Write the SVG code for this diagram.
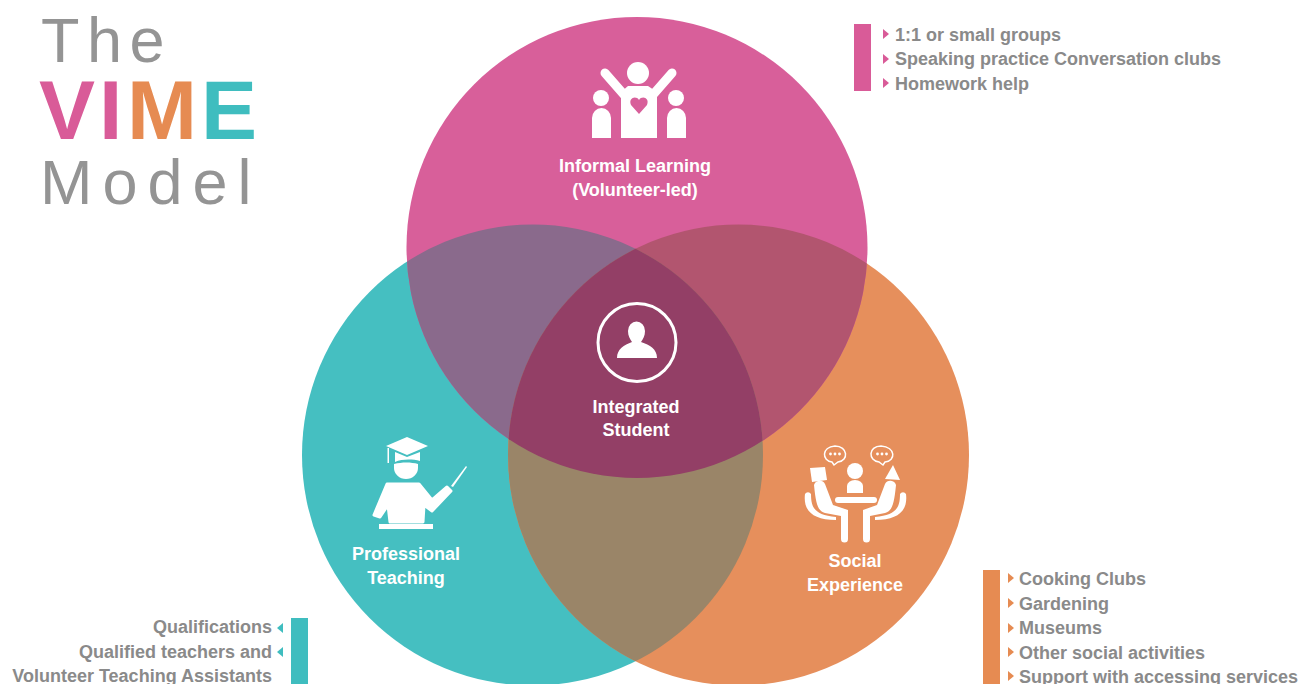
<svg xmlns="http://www.w3.org/2000/svg" width="1309" height="684" viewBox="0 0 1309 684">
<style>
.t{font-family:"Liberation Sans",Arial,sans-serif}
.title{font-size:63px;fill:#949494}
.vime{font-size:84px;font-weight:700}
.lab{font-size:18px;font-weight:700;fill:#fff;text-anchor:middle}
.li{font-size:18px;font-weight:700;fill:#8a8a8a}
.w{fill:#fff}
</style>
<defs>
<circle id="cp" cx="637" cy="247.500" r="230.500"/>
<circle id="ct" cx="532.500" cy="455" r="230.500"/>
<circle id="co" cx="738.500" cy="455" r="230.500"/>
<clipPath id="clipP"><use href="#cp"/></clipPath>
<clipPath id="clipT"><use href="#ct"/></clipPath>
<clipPath id="clipO"><use href="#co"/></clipPath>
<path id="ar" d="M-1-5 5 0-1 5Z"/>
</defs>
<rect width="1309" height="684" fill="#fff"/>
<g id="title" class="t">
<text class="title" x="41" y="62" letter-spacing="7.5">The</text>
<text class="vime" y="139"><tspan fill="#d95b98" x="39">V</tspan><tspan fill="#d95b98" x="99">I</tspan><tspan fill="#e68b52" x="127">M</tspan><tspan fill="#3fbdbf" x="201">E</tspan></text>
<text class="title" x="40" y="204" letter-spacing="10">Model</text>
</g>
<g id="venn">
<use href="#ct" fill="#45bfc1"/>
<use href="#co" fill="#e68f5c"/>
<use href="#cp" fill="#d85f9a"/>
<g clip-path="url(#clipT)"><use href="#cp" fill="#8a6a8c"/></g>
<g clip-path="url(#clipO)"><use href="#cp" fill="#b2556f"/></g>
<g clip-path="url(#clipT)"><use href="#co" fill="#9a8568"/></g>
<g clip-path="url(#clipT)"><g clip-path="url(#clipO)"><use href="#cp" fill="#933f66"/></g></g>
</g>
<g id="node-informal">
<g class="w">
<circle cx="638" cy="73" r="11"/>
<path d="M605 73 626 97M672 73 651 97" stroke="#fff" stroke-width="9" stroke-linecap="round"/>
<path d="M621 138V92L628 86H648L657 92V138Z"/>
<circle cx="601" cy="98" r="8"/>
<path d="M592 138V118a9.500 10 0 0 1 19 0V138Z"/>
<circle cx="676" cy="98" r="8"/>
<path d="M667 138V118a9.500 10 0 0 1 19 0V138Z"/>
</g>
<path d="M639 114 L631 105 C628 98 636 95 639 100 C642 95 650 98 647 105Z" fill="#d85f9a"/>
<text class="t lab" x="635" y="172">Informal Learning</text>
<text class="t lab" x="635" y="196">(Volunteer-led)</text>
</g>
<g id="node-teaching">
<g class="w">
<path d="M386 446 407 437 428 446 407 455Z"/>
<path d="M395 452 407 457 420 452V461C412 459 402 459 395 462Z"/>
<path d="M387.500 448h1.500v15h-1.500Z"/>
<path d="M394 464C402 462 411 462 418 464V468A12 11 0 0 1 394 468Z"/>
<path d="M387 484H419L432 500 447 487 451 491 432 511 424 505 423 522H390L388 505 380 517 374 515Z" stroke="#fff" stroke-width="3" stroke-linejoin="round"/>
<rect x="379" y="524" width="54" height="5"/>
<path d="M451 486 466 466 467 467 453 487Z"/>
</g>
<text class="t lab" x="406" y="560">Professional</text>
<text class="t lab" x="406" y="584">Teaching</text>
</g>
<g id="node-social">
<g class="w">
<circle cx="855" cy="471" r="8"/>
<path d="M847 493V486a8 6 0 0 1 16 0V493Z"/>
<rect x="835" y="497" width="42" height="6" rx="3"/>
<path d="M810 468 825 467 827 480 812 482Z"/>
<path d="M893 465 900 480 885 479Z"/>
<path d="M814 485a6 6 0 0 1 11-1L833 505 848 510V539a3 3 0 0 1-7 0V516L825 513C818 511 816 505 814 485Z"/>
<path d="M896 485a6 6 0 0 0-11-1L877 505 863 510V539a3 3 0 0 0 7 0V516L885 513C892 511 894 505 896 485Z"/>
<path d="M805 494a3.500 3.500 0 0 1 6 0C811 508 815 515 836 517V520C812 520 803 510 805 494Z"/>
<path d="M906 494a3.500 3.500 0 0 0-6 0C900 508 896 515 875 517V520C899 520 908 510 906 494Z"/>
</g>
<g fill="none" stroke="#fff" stroke-width="1.500">
<path d="M832 462C822 461 821 447 835 446C848 446 849 461 838 462L834 465Z"/>
<path d="M885 462C896 461 896 447 881 446C868 446 868 461 879 462L883 465Z"/>
</g>
<g class="w">
<circle cx="830.500" cy="454" r="1.400"/><circle cx="835" cy="454" r="1.400"/><circle cx="839.500" cy="454" r="1.400"/>
<circle cx="877.500" cy="454" r="1.400"/><circle cx="882" cy="454" r="1.400"/><circle cx="886.500" cy="454" r="1.400"/>
</g>
<text class="t lab" x="855" y="567">Social</text>
<text class="t lab" x="855" y="591">Experience</text>
</g>
<g id="node-student">
<circle cx="637" cy="342.500" r="39" fill="none" stroke="#fff" stroke-width="3"/>
<path class="w" d="M628 331a8.500 9.500 0 0 1 17 0C645 336 643 339 641 342C650 345 657 349 657 358H617C617 349 624 345 632 342C630 339 628 336 628 331Z"/>
<text class="t lab" x="636" y="413">Integrated</text>
<text class="t lab" x="636" y="436">Student</text>
</g>
<g id="list-informal">
<rect x="854" y="24" width="17" height="67" fill="#d95b98"/>
<g fill="#d95b98"><use href="#ar" x="884" y="34"/><use href="#ar" x="884" y="59"/><use href="#ar" x="884" y="83"/></g>
<g class="t li"><text x="895" y="41">1:1 or small groups</text><text x="895" y="65">Speaking practice Conversation clubs</text><text x="895" y="90">Homework help</text></g>
</g>
<g id="list-teaching">
<rect x="291" y="618" width="17" height="66" fill="#3fbdbf"/>
<g fill="#3fbdbf"><use href="#ar" transform="translate(282 628) scale(-1 1)"/><use href="#ar" transform="translate(282 652) scale(-1 1)"/></g>
<g class="t li" text-anchor="end"><text x="272" y="633">Qualifications</text><text x="272" y="658">Qualified teachers and</text><text x="272" y="682">Volunteer Teaching Assistants</text></g>
</g>
<g id="list-social">
<rect x="983" y="570" width="17" height="114" fill="#e68b52"/>
<g fill="#e68b52"><use href="#ar" x="1009" y="578"/><use href="#ar" x="1009" y="603"/><use href="#ar" x="1009" y="628"/><use href="#ar" x="1009" y="652"/><use href="#ar" x="1009" y="676"/></g>
<g class="t li"><text x="1019" y="585">Cooking Clubs</text><text x="1019" y="610">Gardening</text><text x="1019" y="634">Museums</text><text x="1019" y="659">Other social activities</text><text x="1019" y="683">Support with accessing services</text></g>
</g>
</svg>
